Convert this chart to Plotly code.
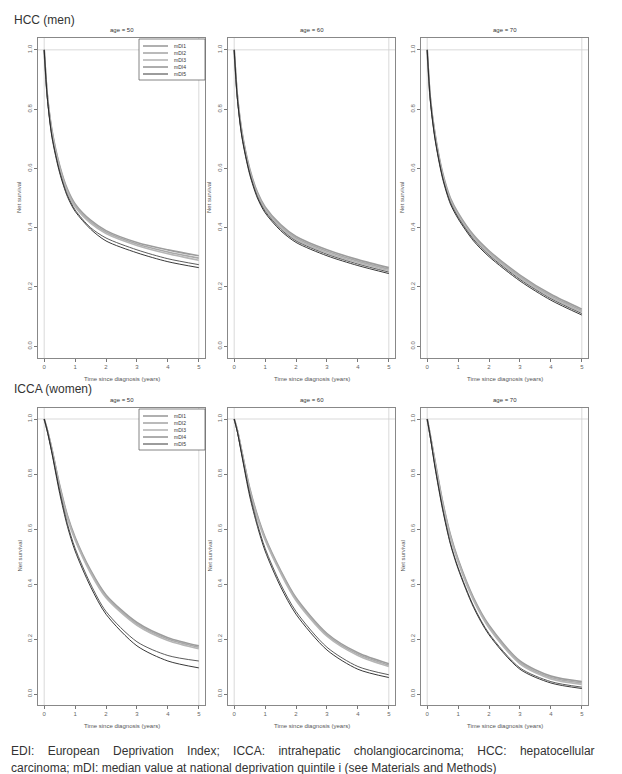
import plotly.graph_objects as go
from plotly.subplots import make_subplots

# ---------------- data ----------------
times = [0, 0.1, 0.25, 0.5, 0.75, 1, 1.5, 2, 3, 4, 5]
quintile_labels = ["mDI1", "mDI2", "mDI3", "mDI4", "mDI5"]
x_ticks = [0, 1, 2, 3, 4, 5]
y_ticks = [0.0, 0.2, 0.4, 0.6, 0.8, 1.0]
ref_times = [0, 5]
ref_level = [1.0]

row_labels = ["HCC (men)", "ICCA (women)"]
panel_titles = ["age = 50", "age = 60", "age = 70"]

# HCC men
hcc_age50 = [
    [1.00, 0.85, 0.73, 0.61, 0.53, 0.48, 0.425, 0.39, 0.35, 0.325, 0.305],
    [1.00, 0.85, 0.725, 0.605, 0.525, 0.475, 0.42, 0.385, 0.345, 0.318, 0.297],
    [1.00, 0.845, 0.72, 0.60, 0.52, 0.47, 0.415, 0.38, 0.34, 0.312, 0.29],
    [1.00, 0.84, 0.71, 0.59, 0.51, 0.46, 0.40, 0.365, 0.325, 0.295, 0.275],
    [1.00, 0.84, 0.705, 0.585, 0.505, 0.455, 0.395, 0.355, 0.315, 0.285, 0.265],
]
hcc_age60 = [
    [1.00, 0.85, 0.725, 0.60, 0.52, 0.47, 0.41, 0.37, 0.325, 0.292, 0.265],
    [1.00, 0.85, 0.72, 0.595, 0.515, 0.465, 0.405, 0.365, 0.32, 0.287, 0.26],
    [1.00, 0.845, 0.715, 0.59, 0.51, 0.46, 0.40, 0.36, 0.315, 0.282, 0.255],
    [1.00, 0.84, 0.71, 0.585, 0.505, 0.455, 0.395, 0.355, 0.31, 0.277, 0.25],
    [1.00, 0.84, 0.705, 0.58, 0.50, 0.45, 0.39, 0.35, 0.305, 0.272, 0.245],
]
hcc_age70 = [
    [1.00, 0.84, 0.72, 0.585, 0.50, 0.45, 0.375, 0.322, 0.24, 0.175, 0.125],
    [1.00, 0.84, 0.715, 0.58, 0.495, 0.445, 0.37, 0.317, 0.235, 0.17, 0.12],
    [1.00, 0.835, 0.71, 0.575, 0.49, 0.44, 0.365, 0.312, 0.23, 0.165, 0.115],
    [1.00, 0.835, 0.705, 0.57, 0.485, 0.435, 0.36, 0.307, 0.225, 0.16, 0.11],
    [1.00, 0.83, 0.70, 0.565, 0.48, 0.43, 0.355, 0.302, 0.22, 0.155, 0.105],
]
# ICCA women
icca_age50 = [
    [1.00, 0.96, 0.89, 0.76, 0.65, 0.57, 0.45, 0.36, 0.26, 0.205, 0.175],
    [1.00, 0.96, 0.89, 0.755, 0.645, 0.565, 0.445, 0.355, 0.255, 0.20, 0.17],
    [1.00, 0.96, 0.885, 0.75, 0.64, 0.56, 0.44, 0.35, 0.25, 0.195, 0.165],
    [1.00, 0.96, 0.88, 0.74, 0.62, 0.53, 0.40, 0.30, 0.19, 0.14, 0.12],
    [1.00, 0.955, 0.875, 0.73, 0.61, 0.52, 0.39, 0.29, 0.175, 0.12, 0.095],
]
icca_age60 = [
    [1.00, 0.96, 0.88, 0.75, 0.65, 0.57, 0.45, 0.35, 0.22, 0.15, 0.11],
    [1.00, 0.96, 0.88, 0.745, 0.645, 0.565, 0.445, 0.345, 0.215, 0.145, 0.105],
    [1.00, 0.96, 0.875, 0.74, 0.64, 0.56, 0.44, 0.34, 0.21, 0.14, 0.10],
    [1.00, 0.955, 0.87, 0.73, 0.62, 0.53, 0.40, 0.30, 0.17, 0.10, 0.07],
    [1.00, 0.955, 0.865, 0.72, 0.61, 0.52, 0.39, 0.29, 0.16, 0.09, 0.06],
]
icca_age70 = [
    [1.00, 0.94, 0.85, 0.70, 0.58, 0.49, 0.35, 0.25, 0.12, 0.065, 0.045],
    [1.00, 0.94, 0.845, 0.695, 0.575, 0.485, 0.345, 0.245, 0.115, 0.06, 0.04],
    [1.00, 0.94, 0.84, 0.69, 0.57, 0.48, 0.34, 0.24, 0.11, 0.055, 0.035],
    [1.00, 0.935, 0.83, 0.675, 0.55, 0.46, 0.32, 0.22, 0.095, 0.045, 0.025],
    [1.00, 0.935, 0.825, 0.67, 0.545, 0.455, 0.315, 0.215, 0.09, 0.04, 0.02],
]

panels = [[hcc_age50, hcc_age60, hcc_age70], [icca_age50, icca_age60, icca_age70]]

# ---------------- styling ----------------
W, H = 622, 774
FONT = "Liberation Sans, Arial, sans-serif"
line_colors = ["#9c9c9c", "#a9a9a9", "#b6b6b6", "#4a4a4a", "#222222"]
line_widths = [1.6, 1.6, 1.6, 0.9, 0.9]
col_px = [(30, 197), (220, 387), (413, 580)]
row_px = [(30, 350), (400, 697)]


def px_x(v):
    return v / W


def px_y(v):
    return 1 - v / H


fig = make_subplots(rows=2, cols=3)

shapes = []
for r in range(2):
    for c in range(3):
        data = panels[r][c]
        for q in range(5):
            fig.add_trace(
                go.Scatter(
                    x=times, y=data[q], mode="lines", name=quintile_labels[q],
                    line=dict(color=line_colors[q], width=line_widths[q], shape="spline", smoothing=0.8),
                    showlegend=False,
                ),
                row=r + 1, col=c + 1,
            )
        idx = r * 3 + c + 1
        xs = "x" if idx == 1 else f"x{idx}"
        ys = "y" if idx == 1 else f"y{idx}"
        for t in ref_times:
            shapes.append(dict(type="line", xref=xs, yref=f"{ys} domain", x0=t, x1=t, y0=0, y1=1,
                               line=dict(color="#cfcfcf", width=0.8), layer="below"))
        for lv in ref_level:
            shapes.append(dict(type="line", xref=f"{xs} domain", yref=ys, x0=0, x1=1, y0=lv, y1=lv,
                               line=dict(color="#cfcfcf", width=0.8), layer="below"))
        fig.update_xaxes(
            domain=[px_x(col_px[c][0]), px_x(col_px[c][1])], range=[-0.2, 5.2],
            tickvals=x_ticks, ticks="outside", ticklen=3, tickcolor="#777",
            showline=True, mirror=True, linecolor="#888", linewidth=1, showgrid=False, zeroline=False,
            tickfont=dict(size=6, color="#666", family=FONT),
            row=r + 1, col=c + 1,
        )
        fig.update_yaxes(
            domain=[px_y(row_px[r][1]), px_y(row_px[r][0])], range=[-0.04, 1.04],
            tickvals=y_ticks, tickformat=".1f", ticks="outside", ticklen=3, tickcolor="#777",
            tickangle=-90,
            showline=True, mirror=True, linecolor="#888", linewidth=1, showgrid=False, zeroline=False,
            tickfont=dict(size=6, color="#666", family=FONT),
            row=r + 1, col=c + 1,
        )

annotations = []


def add_text(text, x, y, size, color="#333", xanchor="left", angle=0):
    annotations.append(dict(text=text, x=px_x(x), y=px_y(y), xref="paper", yref="paper",
                            xanchor=xanchor, yanchor="middle", textangle=angle, showarrow=False,
                            font=dict(size=size, color=color, family=FONT)))


add_text(row_labels[0], 4, 12, 12)
add_text(row_labels[1], 4, 381, 12)
for r in range(2):
    top, bot = row_px[r]
    for c in range(3):
        left, right = col_px[c]
        add_text(panel_titles[c], (left + right) / 2, top - 8, 6, "#333", "center")
        add_text("Time since diagnosis (years)", (left + right) / 2, bot + 21, 6, "#555", "center")
        add_text("Net survival", left - 19, (top + bot) / 2, 6, "#555", "center", -90)

    # legend drawn in the first panel of each row
    lx0, lx1 = 131, 197
    ly0 = top + 1
    shapes.append(dict(type="rect", xref="paper", yref="paper", x0=px_x(lx0), x1=px_x(lx1),
                       y0=px_y(ly0 + 41), y1=px_y(ly0), line=dict(color="#666", width=0.8),
                       fillcolor="white", layer="above"))
    for q in range(5):
        yy = ly0 + 7 + q * 7
        shapes.append(dict(type="line", xref="paper", yref="paper", x0=px_x(135), x1=px_x(160),
                           y0=px_y(yy), y1=px_y(yy),
                           line=dict(color=line_colors[q], width=line_widths[q]), layer="above"))
        add_text(quintile_labels[q], 180, yy, 5, "#333", "right")

sp = "\u00a0\u00a0\u00a0\u00a0"
cap1 = sp.join("EDI: European Deprivation Index; ICCA: intrahepatic cholangiocarcinoma; HCC: hepatocellular".split(" "))
cap2 = "carcinoma; mDI: median value at national deprivation quintile i (see Materials and Methods)"
add_text(cap1, 1, 743, 12, "#333")
add_text(cap2, 1, 760, 12, "#333")

fig.update_layout(
    width=W, height=H, margin=dict(l=0, r=0, t=0, b=0),
    paper_bgcolor="white", plot_bgcolor="white",
    annotations=annotations, shapes=shapes, showlegend=False,
)

fig.write_html("out.html")
